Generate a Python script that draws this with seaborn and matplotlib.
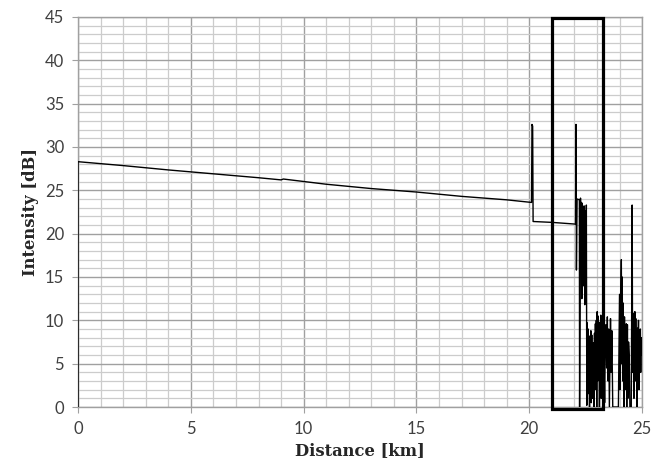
import numpy as np
import pandas as pd
import seaborn as sns
import matplotlib.pyplot as plt
from matplotlib.patches import Rectangle

# OTDR trace: distance [km], intensity [dB]
dist = [0.0, 0.0, 2.0, 4.0, 6.0, 8.0, 9.0, 9.1, 11.0, 13.0, 15.0, 17.0, 19.0, 20.1,
        20.12, 20.15, 20.17, 21.0, 21.5, 22.05,
        22.07, 22.09, 22.12, 22.22, 22.23, 22.27, 22.29, 22.31, 22.33, 22.35,
        22.37, 22.39, 22.41, 22.43, 22.46, 22.48, 22.50, 22.53, 22.55, 22.57,
        22.59, 22.61, 22.63, 22.65, 22.67, 22.69, 22.71, 22.73, 22.75, 22.77,
        22.79, 22.81, 22.83, 22.85, 22.87, 22.89, 22.91, 22.93, 22.95, 22.97,
        22.99, 23.01, 23.03, 23.05, 23.07, 23.09, 23.11, 23.13, 23.15, 23.17,
        23.19, 23.21, 23.23, 23.25, 23.28, 23.31, 23.34, 23.37, 23.40, 23.43,
        23.46, 23.49, 23.52, 23.55, 23.60, 23.63, 23.66, 23.70, 23.95, 23.98,
        24.00, 24.02, 24.05, 24.08, 24.10, 24.12, 24.14, 24.16, 24.19, 24.22,
        24.24, 24.26, 24.28, 24.30, 24.32, 24.35, 24.37, 24.40, 24.43, 24.46,
        24.52, 24.56, 24.58, 24.60, 24.62, 24.64, 24.66, 24.68, 24.70, 24.72,
        24.74, 24.76, 24.78, 24.80, 24.82, 24.84, 24.86, 24.88, 24.90, 24.92,
        24.94, 24.96, 24.98, 25.0]
intensity = [0.0, 28.3, 27.85, 27.35, 26.9, 26.45, 26.2, 26.3, 25.7, 25.2, 24.8, 24.3, 23.9, 23.6,
             32.6, 32.4, 21.4, 21.3, 21.2, 21.1,
             32.6, 15.8, 24.0, 23.9, 0.0, 24.1, 18.0, 23.6, 12.5, 23.5,
             19.0, 22.8, 14.0, 23.2, 11.8, 22.6, 17.0, 23.3, 0.2, 9.7,
             1.5, 9.0, 3.0, 8.2, 0.0, 7.8, 2.5, 8.8, 0.5, 8.3,
             1.0, 6.8, 3.5, 7.4, 0.0, 8.5, 2.0, 9.6, 4.0, 10.0,
             0.0, 11.0, 3.0, 10.5, 5.5, 9.8, 0.0, 9.0, 4.5, 10.6,
             1.0, 10.2, 3.0, 9.4, 0.0, 6.0, 0.5, 8.0, 9.5, 4.5,
             10.4, 3.0, 9.0, 0.0, 10.2, 4.0, 8.8, 0.0, 0.0, 8.0,
             13.0, 2.0, 11.5, 17.0, 5.0, 15.0, 3.0, 12.0, 0.0, 10.4,
             2.0, 8.8, 4.5, 9.6, 0.0, 9.5, 1.0, 7.5, 6.0, 0.0,
             0.0, 23.3, 4.0, 9.5, 10.8, 1.0, 8.5, 11.0, 3.0, 10.2,
             5.0, 9.0, 0.0, 9.1, 6.0, 10.0, 2.0, 8.5, 5.5, 9.0,
             4.0, 8.0, 7.0, 6.0]

# highlighted window
box_x = [21.0, 23.27]
box_y = [-0.2, 44.9]

df = pd.DataFrame({"Distance": dist, "Intensity": intensity})

sns.set_style("white")
plt.rcParams["font.family"] = ["Lato", "DejaVu Sans"]

fig = plt.figure(figsize=(6.64, 4.70), dpi=100)
ax = fig.add_axes([0.1175, 0.134, 0.8495, 0.830])

sns.lineplot(data=df, x="Distance", y="Intensity", sort=False, estimator=None,
             color="black", linewidth=1.0, ax=ax, zorder=3)

ax.add_patch(Rectangle((box_x[0], box_y[0]), box_x[1] - box_x[0], box_y[1] - box_y[0],
                       fill=False, edgecolor="black", linewidth=2.3, zorder=4,
                       clip_on=False))

ax.set_xlim(0, 25)
ax.set_ylim(0, 45)
ax.set_xticks(np.arange(0, 26, 5))
ax.set_xticks(np.arange(0, 26, 1), minor=True)
ax.set_yticks(np.arange(0, 46, 5))
ax.set_yticks(np.arange(0, 46, 1), minor=True)
ax.grid(which="major", color="#a0a0a0", linewidth=1.0)
ax.grid(which="minor", color="#cccccc", linewidth=0.9)
ax.set_axisbelow(True)

for s in ax.spines.values():
    s.set_color("#a0a0a0")
    s.set_linewidth(1.0)

ax.tick_params(which="major", direction="out", length=4, color="#a0a0a0",
               labelsize=12, labelcolor="#404040", pad=6, bottom=True, left=True)
ax.tick_params(which="minor", length=0)

ax.set_xlabel("Distance [km]", family="DejaVu Serif", fontweight="bold",
              fontsize=11.8, labelpad=4)
ax.set_ylabel("Intensity [dB]", family="DejaVu Serif", fontweight="bold",
              fontsize=11.8, labelpad=4)

fig.savefig("out.png", dpi=100)
